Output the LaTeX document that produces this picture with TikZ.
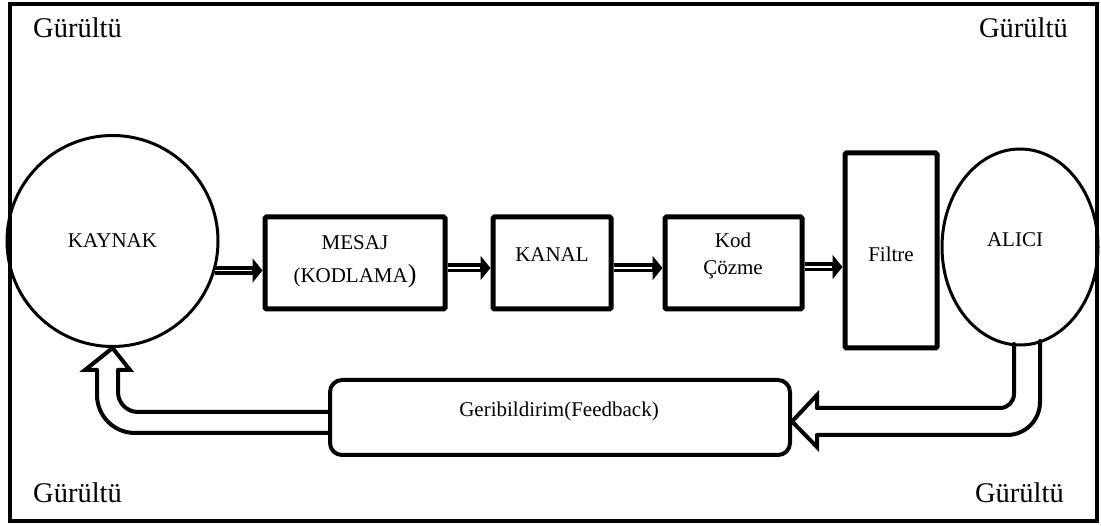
\documentclass[tikz,border=0pt]{standalone}
\usepackage{fontspec}
\setmainfont{Liberation Serif}
\usetikzlibrary{arrows.meta,calc,shapes.geometric}
\newcommand\dblarrow[2]{%
  \draw[shaft] (#1) -- (#2);
  \draw[white, line width=1.5pt, shorten >=11pt] (#1) -- (#2);
}
\begin{document}
\begin{tikzpicture}[x=1pt,y=-1pt,
  lbl/.style={inner sep=0pt, font=\fontsize{21}{21}\selectfont},
  noise/.style={inner sep=0pt, font=\fontsize{28.5}{28.5}\selectfont},
  stepbox/.style={draw, line width=5pt, rounded corners=1.5pt, inner sep=0pt},
  tube/.style={line width=4pt, line cap=round, line join=round},
  shaft/.style={line width=9pt, -{Triangle[length=10pt,width=24pt]}},
]
\useasboundingbox (0,0) rectangle (1101,526);
\draw[line width=4pt] (10,4) rectangle (1097,521);

% corner labels
\node[noise, anchor=base west] (n1) at (33,38) {Gürültü};
\node[noise, anchor=base east] (n2) at (1068,38) {Gürültü};
\node[noise, anchor=base west] (n3) at (33,503) {Gürültü};
\node[noise, anchor=base east] (n4) at (1064,503) {Gürültü};

% source and receiver
\node[circle, draw, line width=3pt, minimum size=211pt, inner sep=0pt, lbl] (kaynak) at (112.5,241) {KAYNAK};
\node[ellipse, draw, line width=3pt, minimum width=156pt, minimum height=196pt, inner sep=0pt] (alici) at (1020,247) {};
\node[lbl, anchor=base] (talici) at (1015,247) {ALICI};

% boxes
\node[stepbox, minimum width=180pt, minimum height=92pt] (mesaj) at (355,263) {};
\node[stepbox, minimum width=118pt, minimum height=92pt] (kanal) at (552,263) {};
\node[stepbox, minimum width=137pt, minimum height=92pt] (kod) at (733.5,263) {};
\node[stepbox, minimum width=92pt, minimum height=195pt] (filtre) at (891,250.5) {};
\node[draw, line width=4pt, rounded corners=12pt, minimum width=460pt, minimum height=75pt, inner sep=0pt] (fb) at (560,417.5) {};

% texts
\node[lbl, anchor=base] (t1) at (355,250) {MESAJ};
\node[lbl, anchor=base] (t2) at (355,283) {(KODLAMA{\fontsize{26}{26}\selectfont)}};
\node[lbl, anchor=base] (t3) at (552,262) {KANAL};
\node[lbl, anchor=base] (t4) at (733,248) {Kod};
\node[lbl, anchor=base] (t5) at (733,275) {Çözme};
\node[lbl, anchor=base] (t6) at (891,262) {Filtre};
\node[lbl, anchor=base] (t7) at (559,417) {Geribildirim(Feedback)};

% forward arrows
\coordinate (a1) at (kaynak.-16);
\dblarrow{a1}{a1 -| mesaj.west}
\coordinate (a2) at ([yshift=-5pt]mesaj.east);
\dblarrow{a2}{a2 -| kanal.west}
\coordinate (a3) at ([yshift=-5pt]kanal.east);
\dblarrow{a3}{a3 -| kod.west}
\coordinate (a4) at ([yshift=-4pt]kod.east);
\dblarrow{a4}{a4 -| filtre.west}

% feedback hollow arrow: receiver -> feedback box
\draw[tube, rounded corners=14pt] (1014,344) -- (1014,408) -- (817,408);
\draw[tube, rounded corners=33pt] (1040,341) -- (1040,435) -- (817,435);
\draw[tube, line join=miter] (817,408) -- (817,395) -- (fb.east |- 0,421.5) -- (817,447) -- (817,435);

% feedback hollow arrow: feedback box -> source
\draw[tube, rounded corners=20pt] (fb.west |- 0,412) -- (118,412) -- (118,370);
\draw[tube, rounded corners=38pt] (fb.west |- 0,433) -- (97,433) -- (97,370);
\draw[tube, line join=miter] (118,370) -- (130,370) -- (kaynak.south) -- (85,370) -- (97,370);
\end{tikzpicture}
\end{document}
